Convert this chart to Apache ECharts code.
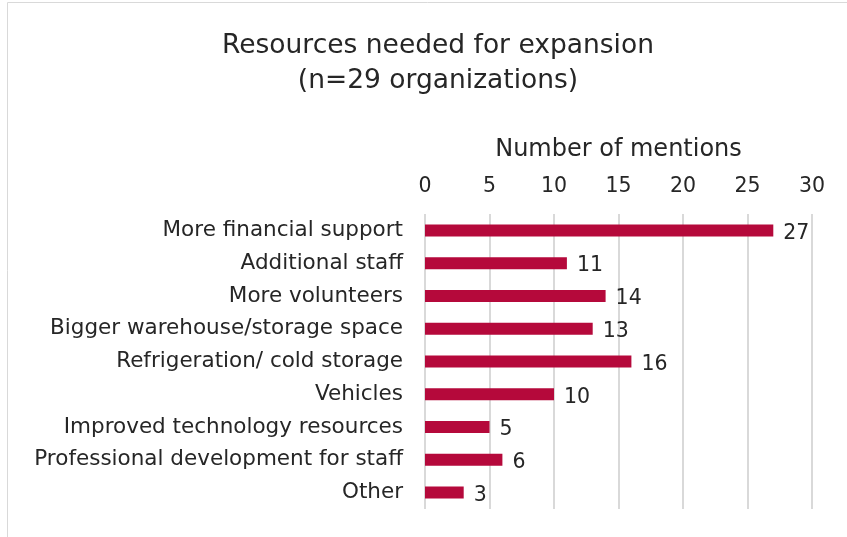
<!DOCTYPE html>
<html><head><meta charset="utf-8">
<script src="https://cdn.jsdelivr.net/npm/echarts@6/dist/echarts.min.js"></script>
<style>html,body{margin:0;padding:0;background:#fff}#c{width:847px;height:537px}</style>
</head><body><div id="c"></div>
<script>
const categories = ["More financial support","Additional staff","More volunteers","Bigger warehouse/storage space","Refrigeration/ cold storage","Vehicles","Improved technology resources","Professional development for staff","Other"];
const values = [27,11,14,13,16,10,5,6,3];
const titleLines = ["Resources needed for expansion","(n=29 organizations)"];
const axisName = "Number of mentions";

const chart = echarts.init(document.getElementById('c'));
const font = '"DejaVu Sans", sans-serif';
chart.setOption({
  animation:false,
  textStyle:{fontFamily:font},
  graphic:[{type:'rect',shape:{x:7.5,y:2.5,width:900,height:600},style:{fill:'none',stroke:'#d9d9d9',lineWidth:1},z:-1}],
  title:{text:titleLines.join('\n'),left:433,textAlign:'center',top:24,textStyle:{fontFamily:font,fontWeight:'normal',fontSize:26.5,color:'#262626',lineHeight:35}},
  grid:{left:425,right:35,top:214,bottom:28},
  xAxis:{type:'value',position:'top',min:0,max:30,interval:5,
    name:axisName,nameLocation:'middle',nameGap:52,nameTextStyle:{fontSize:24,color:'#262626',fontFamily:font},
    axisLabel:{fontSize:20.5,color:'#262626',margin:17},
    axisLine:{show:false},axisTick:{show:false},
    splitLine:{lineStyle:{color:'#d9d9d9',width:2}}},
  yAxis:{type:'category',inverse:true,data:categories,
    axisLabel:{fontSize:21.5,color:'#262626',margin:22},
    axisLine:{show:false},axisTick:{show:false}},
  series:[{type:'bar',data:values,barWidth:12,itemStyle:{color:'#b5093b'},
    label:{show:true,position:'right',distance:10,fontSize:20.5,color:'#262626',offset:[0,3]}}]
});
</script></body></html>
